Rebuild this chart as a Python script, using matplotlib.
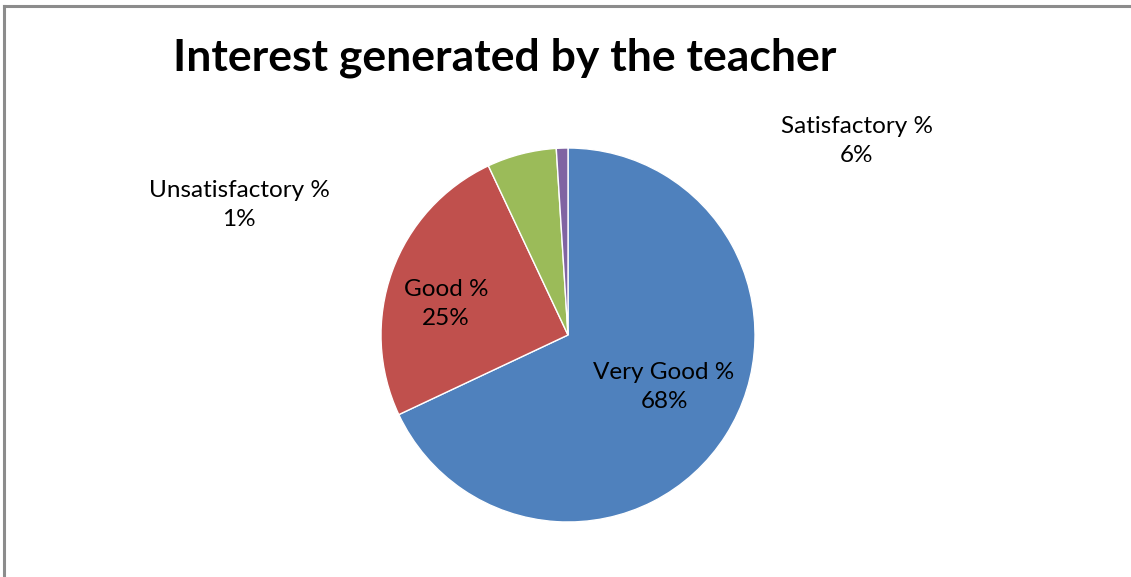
import matplotlib
matplotlib.use('Agg')
import matplotlib.pyplot as plt
from matplotlib.lines import Line2D

# data
categories = ['Very Good %', 'Good %', 'Satisfactory %', 'Unsatisfactory %']
values = [68, 25, 6, 1]
colors = ['#4F81BD', '#C0504D', '#9BBB59', '#8064A2']

W, H = 1131, 577
FONT = 'Lato'


def fx(px):
    return px / W


def fy(py):
    return 1 - py / H


fig = plt.figure(figsize=(W / 100, H / 100), dpi=100, facecolor='white')

# pie axes: centre ~(568, 335), radius ~187 px
ax = fig.add_axes([fx(381), fy(522), 374 / W, 374 / H])
ax.pie(values, colors=colors, startangle=90, counterclock=False,
       radius=1.0, wedgeprops=dict(edgecolor='white', linewidth=1.0))
ax.set_xlim(-1, 1)
ax.set_ylim(-1, 1)
ax.set_aspect('equal')
ax.set_axis_off()

# labels (label positions in pixels)
label_pos = [(664, 387), (446, 304), (857, 141), (239, 205)]
for cat, v, (px, py) in zip(categories, values, label_pos):
    fig.text(fx(px), fy(py), f'{cat}\n{v}%', ha='center', va='center',
             fontsize=17.5, family=FONT, color='black', linespacing=1.45)

# title
fig.text(fx(505), fy(58), 'Interest generated by the teacher',
         ha='center', va='center', fontsize=32, fontweight='bold',
         family=FONT, color='black')

# chart frame (only top and left edges visible in the crop)
frame = dict(color='#8c8c8c', lw=2.2, transform=fig.transFigure)
fig.add_artist(Line2D([fx(4), 1.0], [fy(5.5), fy(5.5)], **frame))
fig.add_artist(Line2D([fx(4), fx(4)], [fy(5.5), 0.0], **frame))

fig.savefig('out.png', dpi=100, facecolor='white')
